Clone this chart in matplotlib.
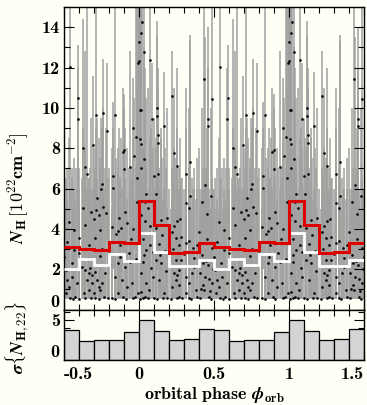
import numpy as np
import matplotlib
matplotlib.use('Agg')
import matplotlib.pyplot as plt
from matplotlib.ticker import MultipleLocator

plt.rcParams['font.family'] = 'cmb10'
plt.rcParams['mathtext.fontset'] = 'cm'
plt.rcParams['axes.unicode_minus'] = False
plt.rcParams['axes.formatter.use_mathtext'] = False

# ---------------- data (orbital phase 0..1, repeated over two cycles) -------------
# points with well-constrained (large) column densities: value, top and bottom of error bar
hi_phase = [0.000, 0.004, 0.007, 0.011, 0.013, 0.015, 0.015, 0.018, 0.031, 0.031, 0.048, 0.073, 0.086, 0.097,
            0.110, 0.117, 0.121, 0.124, 0.126, 0.126, 0.164,
            0.219, 0.232, 0.254,
            0.311, 0.338, 0.340,
            0.435, 0.441, 0.457, 0.461, 0.479, 0.490,
            0.541, 0.590, 0.596,
            0.625, 0.640, 0.651, 0.693,
            0.711, 0.720, 0.744, 0.751, 0.762, 0.784,
            0.828, 0.828, 0.843, 0.890,
            0.901, 0.903, 0.938, 0.960, 0.967, 0.982, 0.987, 0.993, 0.998]
hi_nh = [13.27, 8.47, 9.90, 8.23, 13.73, 9.90, 7.01, 14.27, 12.79, 7.46, 5.74, 12.38, 9.44, 6.63,
         5.71, 9.97, 9.62, 8.25, 8.66, 6.73, 9.12,
         10.61, 7.76, 7.14,
         6.73, 7.31, 5.61,
         11.42, 6.15, 9.47, 9.08, 5.61, 10.43,
         12.04, 9.44, 10.51,
         8.00, 7.09, 6.72, 8.15,
         9.64, 5.54, 6.00, 6.22, 9.72, 8.85,
         6.60, 6.02, 9.65, 7.80,
         7.92, 6.98, 7.09, 9.00, 7.59, 8.53, 6.53, 12.20, 12.30]
hi_top = [18, 16, 17, 15.5, 19, 16.5, 14, 20, 17, 13, 10.5, 15.5, 12.2, 9.5,
          8.5, 14.3, 13.5, 11, 12, 9.5, 11.8,
          12.8, 11, 12,
          11, 13.6, 13.3,
          16, 13.5, 14, 12, 10, 16,
          17, 12, 13.1,
          14.4, 12.8, 15.5, 11.6,
          16, 9.5, 9.5, 9, 12.4, 12.2,
          10.3, 9, 15.5, 11,
          10.7, 10, 12.8, 11.5, 10.5, 16, 16, 18, 17]
hi_bot = [6, 4, 5, 4, 7, 5, 3, 7, 6, 3, 2, 6, 4, 2.5,
          2, 4, 4, 3, 3, 2, 3.5,
          4, 3, 2.5,
          2.5, 3, 2,
          5, 2, 4, 3.5, 2, 4,
          5, 3.5, 4,
          3, 2.5, 2.5, 3,
          3.5, 2, 2, 2, 4, 3.5,
          2, 2, 3.5, 3,
          3, 2.5, 2.5, 3.5, 3, 3.5, 2.5, 5, 5]

# points whose error bars reach down to the fit floor
lo_phase = [0.013, 0.024, 0.042, 0.042, 0.046, 0.057, 0.073, 0.073, 0.005, 0.013, 0.013, 0.024, 0.024, 0.030, 0.040, 0.046, 0.057, 0.068, 0.079, 0.090, 0.090,
            0.112, 0.135, 0.146, 0.152, 0.190, 0.101, 0.112, 0.120, 0.135, 0.146, 0.157, 0.168, 0.190, 0.180, 0.140, 0.175,
            0.218, 0.227, 0.234, 0.245, 0.256, 0.267, 0.274, 0.278, 0.200, 0.215, 0.223, 0.234, 0.245, 0.245, 0.256, 0.256, 0.267, 0.267, 0.270, 0.278, 0.289,
            0.311, 0.311, 0.333, 0.333, 0.360, 0.384, 0.399, 0.300, 0.311, 0.311, 0.333, 0.333, 0.350, 0.355, 0.366, 0.370, 0.377, 0.388,
            0.420, 0.455, 0.455, 0.488, 0.410, 0.420, 0.433, 0.450, 0.466, 0.480, 0.488, 0.405, 0.470, 0.430, 0.415, 0.440, 0.460, 0.475, 0.495, 0.425,
            0.521, 0.532, 0.565, 0.565, 0.500, 0.510, 0.521, 0.532, 0.543, 0.554, 0.560, 0.576, 0.587, 0.515, 0.550, 0.580,
            0.603, 0.625, 0.642, 0.669, 0.682, 0.697, 0.600, 0.600, 0.620, 0.631, 0.642, 0.642, 0.653, 0.660, 0.664, 0.664, 0.675, 0.680, 0.686, 0.686, 0.697,
            0.704, 0.713, 0.730, 0.742, 0.753, 0.757, 0.779, 0.708, 0.708, 0.720, 0.730, 0.730, 0.740, 0.742, 0.753, 0.764, 0.775, 0.790, 0.795,
            0.823, 0.845, 0.859, 0.867, 0.874, 0.881, 0.800, 0.819, 0.840, 0.841, 0.863, 0.863, 0.870, 0.885, 0.896,
            0.907, 0.918, 0.947, 0.962, 0.984, 0.907, 0.910, 0.918, 0.930, 0.940, 0.951, 0.962, 0.975, 0.980, 0.995]
lo_nh = [4.68, 3.52, 5.31, 4.38, 2.95, 5.04, 4.15, 3.20, 0.52, 1.79, 0.89, 2.37, 0.56, 2.70, 0.60, 1.30, 0.56, 0.97, 2.04, 1.63, 2.85,
         4.02, 3.23, 4.43, 3.69, 4.55, 0.56, 2.45, 0.50, 1.46, 2.29, 0.56, 0.80, 0.55, 1.90, 2.70, 2.90,
         3.82, 3.00, 4.15, 3.56, 4.38, 3.20, 4.50, 3.61, 2.60, 0.50, 1.13, 1.79, 2.45, 1.46, 1.71, 0.56, 1.96, 1.22, 0.60, 2.45, 0.56,
         5.26, 3.28, 5.01, 3.39, 3.06, 3.20, 3.85, 2.75, 1.63, 0.80, 1.30, 0.56, 0.50, 1.79, 2.12, 2.55, 0.97, 0.64,
         5.31, 4.76, 3.52, 3.03, 0.55, 2.70, 0.97, 2.40, 0.64, 0.50, 1.30, 1.80, 1.50, 1.20, 1.00, 1.60, 2.20, 0.90, 2.00, 2.30,
         3.36, 4.32, 3.94, 2.95, 2.60, 1.96, 1.46, 1.13, 0.56, 1.63, 0.52, 0.64, 1.30, 0.80, 2.30, 2.00,
         3.56, 5.01, 4.18, 3.20, 4.84, 4.48, 0.50, 2.80, 2.12, 0.80, 1.96, 0.56, 1.46, 2.50, 1.79, 0.97, 2.04, 0.55, 1.71, 1.30, 0.80,
         3.56, 4.93, 4.68, 3.94, 3.00, 5.09, 4.81, 1.88, 0.56, 1.46, 1.13, 0.50, 2.65, 0.97, 1.30, 0.64, 1.79, 0.58, 2.20,
         4.10, 3.72, 3.89, 4.55, 3.20, 4.05, 2.90, 0.56, 0.50, 1.63, 2.29, 0.80, 2.60, 1.46, 0.64,
         4.84, 4.27, 3.49, 3.99, 5.31, 2.12, 0.52, 1.13, 2.80, 2.37, 1.30, 0.56, 0.60, 2.50, 0.80]
lo_top = [9, 8, 12, 9.5, 7, 11, 8.5, 7.5, 5, 6.5, 5.5, 8, 6, 7, 6, 7.5, 5.5, 6, 9, 6.5, 8,
          8, 7, 9, 7.5, 10, 6, 7, 5, 6.5, 8.5, 5.5, 6, 5, 7, 6, 8,
          7, 6.5, 8, 7, 9, 6, 8.5, 6.5, 6, 5, 5.5, 6, 7.5, 5, 6.5, 5.5, 7, 5.5, 5, 6, 6.5,
          9, 6.5, 10, 7, 6, 7.5, 8, 6, 5.5, 5, 6, 5.5, 5, 6.5, 7, 6, 5.5, 6,
          10, 9, 7, 6.5, 5, 6, 5.5, 7, 6, 5, 6.5, 6, 5.5, 6, 5.5, 6, 6.5, 5, 6, 7,
          7, 8.5, 7.5, 6, 6, 6.5, 5.5, 5, 6, 7, 5, 5.5, 6, 5, 6.5, 7,
          7, 9, 8, 6.5, 9.5, 8, 5, 6, 6.5, 5.5, 7, 5, 6, 6.5, 5.5, 6, 7, 5, 6, 5.5, 6,
          7, 9, 8.5, 7.5, 6, 10, 9, 6, 5, 6.5, 5.5, 5, 7, 6, 5.5, 6, 7, 5, 6.5,
          8, 7.5, 8, 9, 6.5, 8.5, 7, 5, 5.5, 6, 7, 5.5, 6.5, 6, 5,
          9, 8, 7, 8.5, 11, 6.5, 5, 5.5, 7, 6, 6.5, 5, 5.5, 7, 6]
nh_floor = 0.5

# binned statistics per 0.1 phase bin (bins starting at phase 0.0, 0.1, ..., 0.9)
bin_start = [0.0, 0.1, 0.2, 0.3, 0.4, 0.5, 0.6, 0.7, 0.8, 0.9]
mean_nh = [5.40, 4.20, 2.80, 2.85, 3.30, 3.08, 3.02, 2.95, 3.37, 3.30]
median_nh = [3.78, 2.87, 2.18, 2.18, 2.47, 2.03, 2.52, 2.23, 2.75, 2.39]
sigma_nh = [5.04, 3.58, 2.50, 2.58, 3.92, 3.80, 2.38, 2.55, 2.46, 3.50]

# ---------------- figure ----------------
bg = '#fffff6'
fig = plt.figure(figsize=(3.67, 4.05), dpi=100)
fig.patch.set_facecolor(bg)
ax = fig.add_axes([0.1744, 0.2358, 0.8174, 0.7469])
ax2 = fig.add_axes([0.1744, 0.1111, 0.8174, 0.1247])
for a in (ax, ax2):
    a.set_facecolor(bg)
    for s in a.spines.values():
        s.set_linewidth(1.0)

xmin, xmax = -0.5, 1.5
shifts = [-1, 0, 1]

hp = np.array(hi_phase); hn = np.array(hi_nh); ht = np.array(hi_top); hb = np.array(hi_bot)
lp = np.array(lo_phase); ln = np.array(lo_nh); lt = np.array(lo_top)

P_all, N_all, T_all, B_all = [], [], [], []
for s in shifts:
    P_all += [lp + s, hp + s]
    N_all += [ln, hn]
    T_all += [lt, ht]
    B_all += [np.full_like(ln, nh_floor), hb]
P = np.concatenate(P_all); N = np.concatenate(N_all)
T = np.concatenate(T_all); B = np.concatenate(B_all)
m = (P >= xmin) & (P <= xmax)
P, N, T, B = P[m], N[m], T[m], B[m]

ax.vlines(P, B, T, color='#a0a0a0', lw=1.1, zorder=1)
ax.plot(P, N, 'o', ms=1.9, mec='none', color='k', zorder=3)

# binned step curves over the plotted range
edges = np.round(np.arange(xmin, xmax + 1e-9, 0.1), 2)
idx = [bin_start.index(round(e % 1.0, 1) % 1.0 if round(e % 1.0, 1) < 1 else 0.0) for e in edges[:-1]]
mean_t = np.array(mean_nh)[idx]
med_t = np.array(median_nh)[idx]
sig_t = np.array(sigma_nh)[idx]

ax.stairs(med_t, edges, baseline=None, color='white', lw=2.0, zorder=4)
ax.stairs(mean_t, edges, baseline=None, color='#dd0000', lw=2.2, zorder=5)

ax2.bar(edges[:-1], sig_t, width=0.1, align='edge', color='#d4d4d4', edgecolor='k', lw=0.9, zorder=2)

# ---------------- axes styling ----------------
ax.set_xlim(xmin, xmax)
ax.set_ylim(0, 15)
ax2.set_xlim(xmin, xmax)
ax2.set_ylim(0, 6.3)

for a in (ax, ax2):
    a.xaxis.set_major_locator(MultipleLocator(0.5))
    a.xaxis.set_minor_locator(MultipleLocator(0.1))
    a.tick_params(which='both', direction='in', top=True, right=True, width=0.8, labelsize=13, pad=3)
    a.tick_params(which='major', length=7)
    a.tick_params(which='minor', length=4)

ax.yaxis.set_minor_locator(MultipleLocator(1))
ax.set_yticks([0, 2, 4, 6, 8, 10, 12, 14])
ax.set_yticklabels(['0', '2', '4', '6', '8', '10', '12', '14'])
ax.get_yticklabels()[0].set_va('bottom')
ax.tick_params(axis='x', labelbottom=False)

ax2.set_yticks([0, 5])
ax2.set_yticklabels(['0', '5'])
ax2.get_yticklabels()[0].set_va('bottom')
ax2.yaxis.set_minor_locator(MultipleLocator(1))
ax2.set_xticks([-0.5, 0, 0.5, 1, 1.5])
xl = ax2.set_xticklabels(['-0.5', '0', '0.5', '1', '1.5'])
xl[0].set_ha('left')
xl[-1].set_ha('right')
ax2.tick_params(axis='x', pad=5)

ax.set_ylabel(r'$\boldsymbol{N}_{\mathbf{H}}\,\mathbf{[10^{22}cm^{-2}]}$', fontsize=13)
ax.yaxis.set_label_coords(-0.11, 0.40)
ax2.set_ylabel(r'$\boldsymbol{\sigma}\{\boldsymbol{N}_{\mathbf{H,22}}\}$', fontsize=13)
ax2.yaxis.set_label_coords(-0.11, 0.45)
ax2.set_xlabel(r'$\mathbf{orbital\ phase}\ \boldsymbol{\phi}_{\mathbf{orb}}$', fontsize=13, labelpad=2)

fig.savefig('out.png', dpi=100, facecolor=bg)
